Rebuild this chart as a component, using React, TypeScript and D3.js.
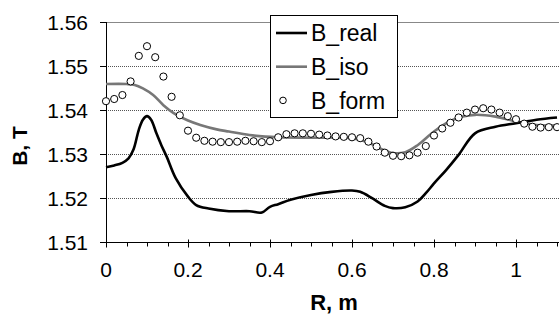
import React, { useEffect, useRef } from 'react';
import * as d3 from 'd3';

// B_real (black line)
const realR = [0, 0.02, 0.04, 0.055, 0.067, 0.08, 0.09, 0.1, 0.11, 0.123, 0.135, 0.148, 0.17, 0.2, 0.22, 0.25, 0.3, 0.35, 0.38, 0.4, 0.42, 0.45, 0.5, 0.55, 0.6, 0.62, 0.65, 0.68, 0.7, 0.73, 0.76, 0.78, 0.8, 0.83, 0.86, 0.9, 0.95, 1.0, 1.05, 1.1];
const realB = [1.527, 1.5274, 1.528, 1.529, 1.531, 1.5355, 1.5378, 1.5386, 1.5378, 1.5347, 1.532, 1.5294, 1.5245, 1.5203, 1.5184, 1.5176, 1.517, 1.517, 1.5167, 1.518, 1.5186, 1.5196, 1.5207, 1.5214, 1.5217, 1.5214, 1.5199, 1.5182, 1.5177, 1.5179, 1.5192, 1.5211, 1.5233, 1.5264, 1.5298, 1.5347, 1.5362, 1.537, 1.5378, 1.5383];

// B_iso (grey line)
const isoR = [0, 0.05, 0.07, 0.09, 0.115, 0.14, 0.165, 0.2, 0.23, 0.27, 0.3, 0.35, 0.42, 0.5, 0.6, 0.64, 0.67, 0.7, 0.73, 0.76, 0.8, 0.84, 0.87, 0.9, 0.95, 1.0, 1.05, 1.1];
const isoB = [1.5459, 1.5459, 1.5457, 1.5449, 1.5434, 1.5411, 1.5393, 1.5376, 1.5366, 1.5356, 1.5351, 1.5343, 1.5338, 1.5337, 1.5336, 1.5326, 1.5312, 1.5302, 1.5304, 1.532, 1.5351, 1.5375, 1.5385, 1.5389, 1.5385, 1.5374, 1.5366, 1.5365];

// B_form (circles)
const formR = [0, 0.02, 0.04, 0.06, 0.08, 0.1, 0.12, 0.14, 0.16, 0.18, 0.2, 0.22, 0.24, 0.26, 0.28, 0.3, 0.32, 0.34, 0.36, 0.38, 0.4, 0.42, 0.44, 0.46, 0.48, 0.5, 0.52, 0.54, 0.56, 0.58, 0.6, 0.62, 0.64, 0.66, 0.68, 0.7, 0.72, 0.74, 0.76, 0.78, 0.8, 0.82, 0.84, 0.86, 0.88, 0.9, 0.92, 0.94, 0.96, 0.98, 1.0, 1.02, 1.04, 1.06, 1.08, 1.1];
const formB = [1.542, 1.5425, 1.5434, 1.5465, 1.5523, 1.5545, 1.552, 1.5476, 1.543, 1.5388, 1.5353, 1.5337, 1.533, 1.5328, 1.5327, 1.5327, 1.5328, 1.533, 1.5329, 1.5327, 1.5329, 1.5338, 1.5345, 1.5347, 1.5347, 1.5346, 1.5344, 1.5342, 1.534, 1.5339, 1.5338, 1.5336, 1.5328, 1.5317, 1.5303, 1.5296, 1.5295, 1.5297, 1.5303, 1.5318, 1.5342, 1.5358, 1.5371, 1.5383, 1.5394, 1.5401, 1.5404, 1.5401, 1.5394, 1.5386, 1.5379, 1.5369, 1.5362, 1.536, 1.5361, 1.5361];

const xTicks = [0, 0.2, 0.4, 0.6, 0.8, 1];
const yTicks = [1.51, 1.52, 1.53, 1.54, 1.55, 1.56];
const legendLabels = ['B_real', 'B_iso', 'B_form'];

const font = "'Liberation Sans', Arial, sans-serif";

const App = () => {
  const svgRef = useRef<SVGSVGElement>(null);

  useEffect(() => {
    const width = 559;
    const height = 314;
    const left = 106;
    const right = 557;
    const top = 22;
    const bottom = 242;

    const svg = d3.select(svgRef.current)
      .attr('width', width)
      .attr('height', height);
    svg.selectAll('*').remove();

    const x = d3.scaleLinear().domain([0, 1.1]).range([left, right]);
    const y = d3.scaleLinear().domain([1.51, 1.56]).range([bottom, top]);

    // gridlines
    svg.append('g')
      .selectAll('line')
      .data(yTicks.filter(d => d > 1.51 && d < 1.56))
      .join('line')
      .attr('x1', left).attr('x2', width)
      .attr('y1', d => Math.round(y(d)) + 0.5).attr('y2', d => Math.round(y(d)) + 0.5)
      .attr('stroke', '#555')
      .attr('stroke-dasharray', '1,1');

    // top border
    svg.append('line')
      .attr('x1', left).attr('x2', width)
      .attr('y1', top + 0.5).attr('y2', top + 0.5)
      .attr('stroke', '#888');

    // x axis
    const xAxis = svg.append('g').attr('transform', `translate(0,${bottom + 0.5})`);
    xAxis.append('line').attr('x1', left).attr('x2', width).attr('stroke', '#000');
    const minor = d3.range(0, 23).map(i => i * 0.05);
    xAxis.selectAll('line.minor')
      .data(minor)
      .join('line')
      .attr('class', 'minor')
      .attr('x1', d => Math.round(x(d)) + 0.5).attr('x2', d => Math.round(x(d)) + 0.5)
      .attr('y1', d => (Math.abs(d * 5 - Math.round(d * 5)) < 1e-6 ? -3 : 0))
      .attr('y2', d => (Math.abs(d * 5 - Math.round(d * 5)) < 1e-6 ? 5 : 4))
      .attr('stroke', '#000');
    xAxis.selectAll('text')
      .data(xTicks)
      .join('text')
      .attr('x', d => x(d))
      .attr('y', 34)
      .attr('text-anchor', 'middle')
      .attr('font-family', font)
      .attr('font-size', 21)
      .text(d => String(d));

    // y axis
    const yAxis = svg.append('g');
    yAxis.append('line')
      .attr('x1', left + 0.5).attr('x2', left + 0.5)
      .attr('y1', top).attr('y2', bottom + 0.5)
      .attr('stroke', '#000');
    yAxis.selectAll('line.tick')
      .data(yTicks)
      .join('line')
      .attr('class', 'tick')
      .attr('x1', left - 6).attr('x2', left)
      .attr('y1', d => Math.round(y(d)) + 0.5).attr('y2', d => Math.round(y(d)) + 0.5)
      .attr('stroke', '#000');
    yAxis.selectAll('text')
      .data(yTicks)
      .join('text')
      .attr('x', 88)
      .attr('y', d => y(d))
      .attr('dy', '0.36em')
      .attr('text-anchor', 'end')
      .attr('font-family', font)
      .attr('font-size', 21)
      .text(d => d.toFixed(2));

    // axis titles
    svg.append('text')
      .attr('x', 334).attr('y', 310)
      .attr('text-anchor', 'middle')
      .attr('font-family', font).attr('font-weight', 'bold').attr('font-size', 22)
      .text('R, m');
    svg.append('text')
      .attr('transform', 'translate(27,146) rotate(-90)')
      .attr('text-anchor', 'middle')
      .attr('font-family', font).attr('font-weight', 'bold').attr('font-size', 21)
      .text('B, T');

    const line = d3.line<[number, number]>()
      .x(d => x(d[0]))
      .y(d => y(d[1]))
      .curve(d3.curveCatmullRom.alpha(0.5));

    svg.append('path')
      .datum(isoR.map((r, i) => [r, isoB[i]] as [number, number]))
      .attr('d', line)
      .attr('fill', 'none')
      .attr('stroke', '#777')
      .attr('stroke-width', 2.6);

    svg.append('path')
      .datum(realR.map((r, i) => [r, realB[i]] as [number, number]))
      .attr('d', line)
      .attr('fill', 'none')
      .attr('stroke', '#000')
      .attr('stroke-width', 2.6);

    svg.append('g')
      .selectAll('circle')
      .data(formR.map((r, i) => [r, formB[i]]))
      .join('circle')
      .attr('cx', d => x(d[0]))
      .attr('cy', d => y(d[1]))
      .attr('r', 3.6)
      .attr('fill', '#fff')
      .attr('stroke', '#000')
      .attr('stroke-width', 1);

    // legend
    const lg = svg.append('g');
    lg.append('rect')
      .attr('x', 270.5).attr('y', 15.5)
      .attr('width', 127).attr('height', 102)
      .attr('fill', '#fff').attr('stroke', '#000');
    legendLabels.forEach((label, i) => {
      const cy = 33 + i * 33.7;
      if (i < 2) {
        lg.append('line')
          .attr('x1', 276).attr('x2', 307)
          .attr('y1', cy).attr('y2', cy)
          .attr('stroke', i === 0 ? '#000' : '#777')
          .attr('stroke-width', 2.6);
      } else {
        lg.append('circle')
          .attr('cx', 283).attr('cy', cy).attr('r', 3.3)
          .attr('fill', '#fff').attr('stroke', '#000');
      }
      lg.append('text')
        .attr('x', 311).attr('y', cy)
        .attr('dy', '0.36em')
        .attr('font-family', font)
        .attr('font-size', 23)
        .text(label);
    });
  }, []);

  return <svg ref={svgRef} style={{ position: 'absolute', left: 0, top: 0 }}></svg>;
};

export default App;
